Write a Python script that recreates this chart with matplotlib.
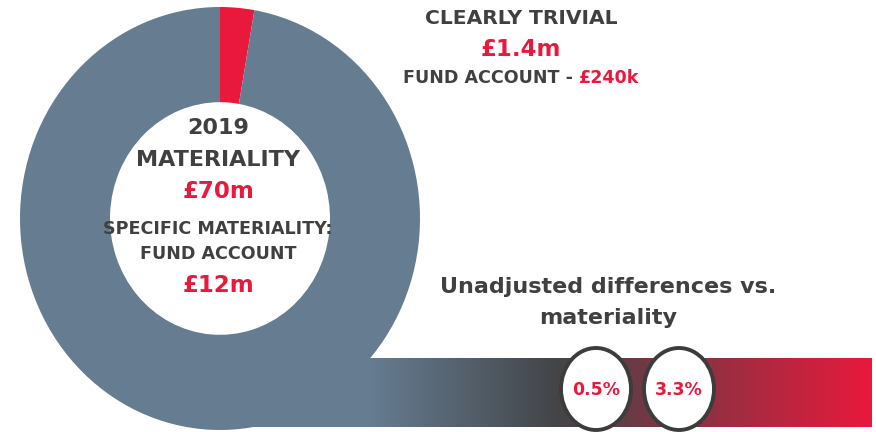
import numpy as np
import matplotlib.pyplot as plt
from matplotlib.colors import LinearSegmentedColormap
from matplotlib.patches import Ellipse

W, H = 876, 432

SLATE = '#667c91'
RED = '#e8193c'
DARK = '#404040'

# donut: clearly trivial share vs. rest of materiality
slice_labels = ['Clearly trivial', 'Remaining materiality']
slice_values = [2.75, 97.25]
slice_colors = [RED, SLATE]

# unadjusted differences shown in the bubbles
diff_labels = ['0.5%', '3.3%']
diff_x = [596, 679]

fig = plt.figure(figsize=(W / 100, H / 100), dpi=100)

# background axes in pixel coordinates for the gradient bar and bubbles
ax = fig.add_axes([0, 0, 1, 1])
ax.set_xlim(0, W)
ax.set_ylim(H, 0)
ax.axis('off')

grad_cmap = LinearSegmentedColormap.from_list(
    'bar', [(0.0, SLATE), (0.37, '#434548'), (1.0, RED)])
grad = np.linspace(0, 1, 512).reshape(1, -1)
ax.imshow(grad, cmap=grad_cmap, extent=(370, 872, 427, 358), aspect='auto', zorder=1)
# stretch under the donut so the bar looks attached to the ring
ax.fill_between([220, 371], 358, 427, color=SLATE, zorder=1, lw=0)

for x, lab in zip(diff_x, diff_labels):
    ax.add_patch(Ellipse((x, 389), 70, 82, facecolor='white', edgecolor='#3c3c3c',
                         lw=2.8, zorder=3))
    ax.text(x, 390, lab, ha='center', va='center', color=RED, fontsize=12.5,
            fontweight='bold', zorder=4)

# donut on its own axes, slightly taller than wide like the original
dax = fig.add_axes([20 / W, (H - 430) / H, 400 / W, 423 / H])
dax.pie(slice_values, colors=slice_colors, startangle=90, counterclock=False,
        radius=1, wedgeprops=dict(width=0.45, linewidth=0))
dax.set_aspect('auto')
dax.set_xlim(-1, 1)
dax.set_ylim(-1, 1)
dax.axis('off')
dax.patch.set_alpha(0)


def ftext(x, y, s, color=DARK, size=12, **kw):
    fig.text(x / W, 1 - y / H, s, ha='center', va='center', color=color,
             fontsize=size, fontweight='bold', **kw)


# centre of the donut
ftext(218, 128, '2019', size=16)
ftext(218, 160, 'MATERIALITY', size=16)
ftext(218, 192, '£70m', color=RED, size=16.5)
ftext(218, 229, 'SPECIFIC MATERIALITY:', size=12.6)
ftext(218, 254, 'FUND ACCOUNT', size=12.6)
ftext(218, 285, '£12m', color=RED, size=16.5)

# clearly trivial block
ftext(521, 19, 'CLEARLY TRIVIAL', size=14.6)
ftext(521, 50, '£1.4m', color=RED, size=16.5)
t1 = fig.text(403 / W, 1 - 78 / H, 'FUND ACCOUNT - ', ha='left', va='center',
              color=DARK, fontsize=12.6, fontweight='bold')
fig.canvas.draw()
bb = t1.get_window_extent()
fig.text(bb.x1 / W, 1 - 78 / H, '£240k', ha='left', va='center', color=RED,
         fontsize=12.6, fontweight='bold')

ftext(608, 287, 'Unadjusted differences vs.', size=16)
ftext(608, 318, 'materiality', size=16)

fig.savefig('out.png', dpi=100)
